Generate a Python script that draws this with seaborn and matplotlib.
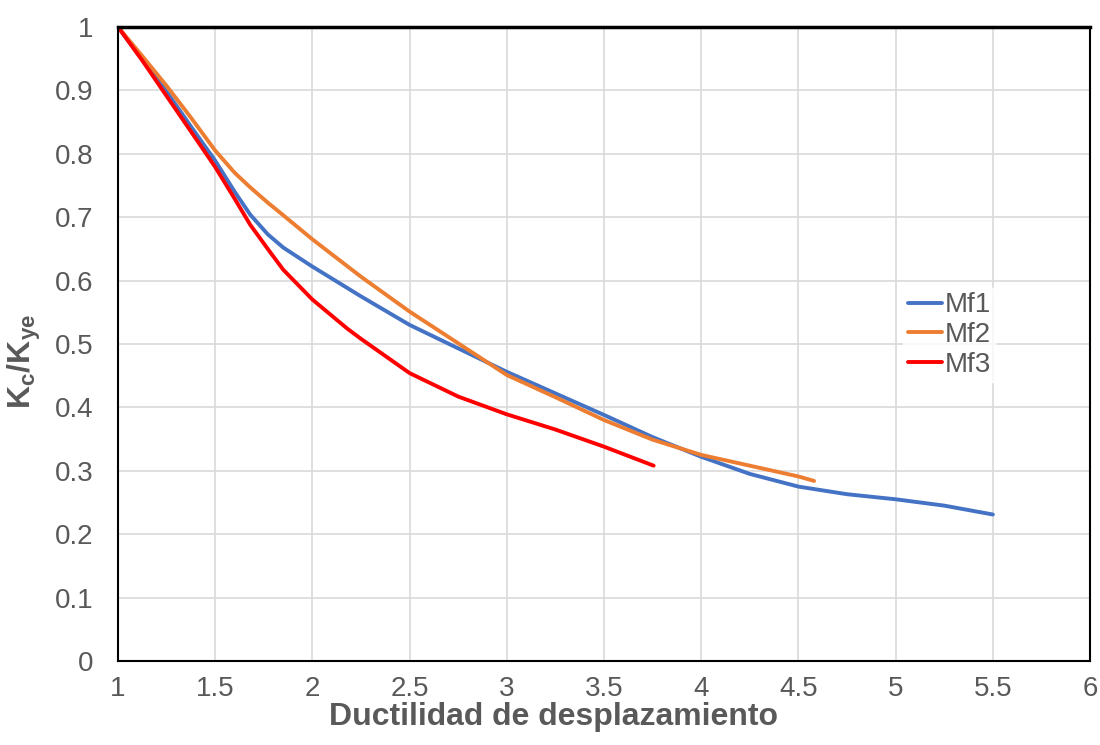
import matplotlib
matplotlib.use("Agg")
import matplotlib.pyplot as plt
import seaborn as sns
import pandas as pd

# ---- data ----
mf1_x = [1, 1.125, 1.25, 1.375, 1.5, 1.6, 1.68, 1.77, 1.85, 2, 2.25, 2.5, 2.75, 3,
         3.25, 3.5, 3.75, 4, 4.25, 4.5, 4.75, 5, 5.25, 5.5]
mf1_y = [1, 0.948, 0.898, 0.843, 0.789, 0.740, 0.704, 0.673, 0.652, 0.622, 0.575,
         0.53, 0.493, 0.456, 0.422, 0.388, 0.353, 0.322, 0.295, 0.275, 0.263,
         0.255, 0.245, 0.231]

mf2_x = [1, 1.125, 1.25, 1.375, 1.5, 1.6, 1.68, 1.77, 1.85, 2, 2.25, 2.5, 2.75, 3,
         3.25, 3.5, 3.75, 4, 4.25, 4.5, 4.58]
mf2_y = [1, 0.954, 0.907, 0.857, 0.805, 0.770, 0.747, 0.723, 0.703, 0.665, 0.606,
         0.551, 0.501, 0.451, 0.416, 0.38, 0.349, 0.325, 0.308, 0.291, 0.284]

mf3_x = [1, 1.125, 1.25, 1.42, 1.5, 1.6, 1.68, 1.77, 1.85, 2, 2.18, 2.25, 2.5,
         2.75, 3, 3.25, 3.5, 3.755]
mf3_y = [1, 0.947, 0.891, 0.815, 0.779, 0.729, 0.688, 0.650, 0.617, 0.570, 0.524,
         0.508, 0.454, 0.417, 0.389, 0.365, 0.338, 0.308]

series_names = ["Mf1", "Mf2", "Mf3"]
series_colors = ["#4472C4", "#ED7D31", "#FF0000"]

x_ticks = [1, 1.5, 2, 2.5, 3, 3.5, 4, 4.5, 5, 5.5, 6]
x_tick_labels = ["1", "1.5", "2", "2.5", "3", "3.5", "4", "4.5", "5", "5.5", "6"]
y_ticks = [0, 0.1, 0.2, 0.3, 0.4, 0.5, 0.6, 0.7, 0.8, 0.9, 1]
y_tick_labels = ["0", "0.1", "0.2", "0.3", "0.4", "0.5", "0.6", "0.7", "0.8", "0.9", "1"]

x_label = "Ductilidad de desplazamiento"
y_label = r"$\mathbf{K_c/K_{ye}}$"

frames = []
for name, xs, ys in zip(series_names, [mf1_x, mf2_x, mf3_x], [mf1_y, mf2_y, mf3_y]):
    frames.append(pd.DataFrame({"x": xs, "y": ys, "serie": name}))
df = pd.concat(frames, ignore_index=True)

sns.set_theme(style="white")
plt.rcParams["font.family"] = ["Liberation Sans", "DejaVu Sans"]
plt.rcParams["mathtext.fontset"] = "custom"
plt.rcParams["mathtext.rm"] = "Liberation Sans"
plt.rcParams["mathtext.bf"] = "Liberation Sans:bold"
plt.rcParams["mathtext.it"] = "Liberation Sans:italic"

gray = "#595959"

fig = plt.figure(figsize=(11, 7.45), dpi=100)
ax = fig.add_axes([0.1073, 0.1128, 0.8837, 0.851])

sns.lineplot(data=df, x="x", y="y", hue="serie", palette=series_colors,
             hue_order=series_names, sort=False, estimator=None,
             linewidth=2.8, ax=ax, legend=True)
for ln in ax.get_lines():
    ln.set_solid_joinstyle("round")
    ln.set_solid_capstyle("round")

ax.set_xlim(1, 6)
ax.set_ylim(0, 1)
ax.set_xticks(x_ticks)
ax.set_xticklabels(x_tick_labels)
ax.set_yticks(y_ticks)
ax.set_yticklabels(y_tick_labels)
ax.tick_params(axis="both", length=0, labelsize=20, labelcolor=gray)
ax.tick_params(axis="x", pad=11)
ax.tick_params(axis="y", pad=18)
ax.grid(True, color="#d9d9d9", linewidth=1.2)
ax.set_axisbelow(True)

for side in ["left", "right", "bottom"]:
    ax.spines[side].set_visible(True)
    ax.spines[side].set_color("black")
    ax.spines[side].set_linewidth(1.5)
ax.spines["top"].set_visible(True)
ax.spines["top"].set_color("black")
ax.spines["top"].set_linewidth(2.5)

ax.set_xlabel(x_label, fontsize=23, fontweight="bold", color=gray)
ax.xaxis.set_label_coords(0.4475, -0.064)
ax.set_ylabel(y_label, fontsize=23, color=gray)
ax.yaxis.set_label_coords(-0.077, 0.472)

leg = ax.legend(loc="upper left", bbox_to_anchor=(0.808, 0.588), frameon=True,
                fontsize=20, handlelength=1.25, handletextpad=0.08,
                labelspacing=0.13, borderpad=0.15, borderaxespad=0.0,
                fancybox=False)
leg.get_frame().set_facecolor("white")
leg.get_frame().set_edgecolor("white")
for t in leg.get_texts():
    t.set_color(gray)
for h in leg.get_lines():
    h.set_linewidth(2.8)

fig.savefig("out.png", dpi=100, facecolor="white")
